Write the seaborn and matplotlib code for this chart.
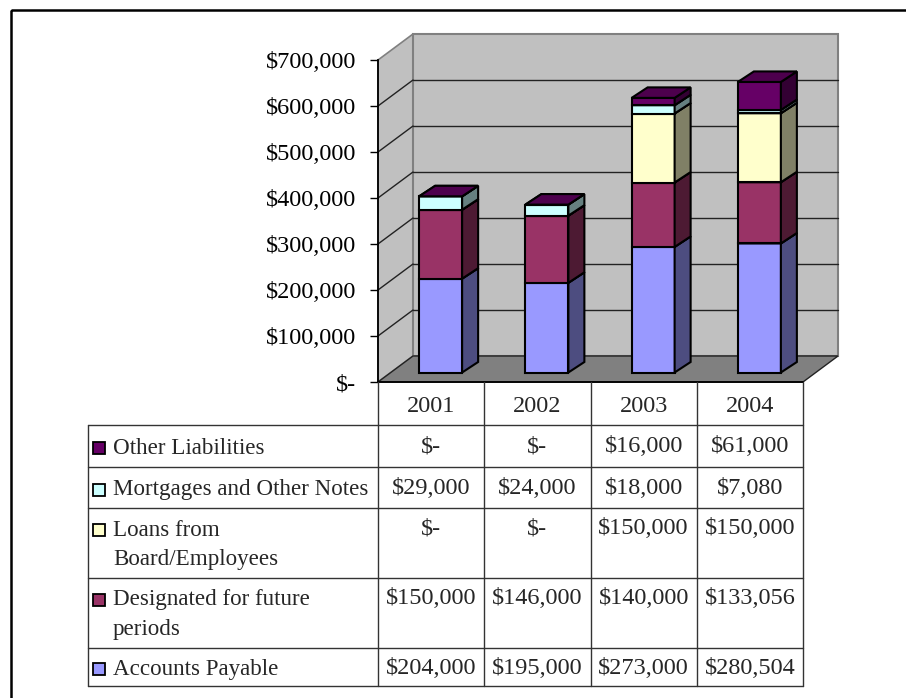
import matplotlib
matplotlib.use("Agg")
import matplotlib.pyplot as plt
import matplotlib.transforms as mtransforms
from matplotlib.patches import Polygon, Rectangle
from matplotlib.lines import Line2D
import matplotlib.colors as mcolors
import seaborn as sns
import numpy as np

# ---------------- data ----------------
years = ["2001", "2002", "2003", "2004"]
accounts_payable = [204000, 195000, 273000, 280504]
designated = [150000, 146000, 140000, 133056]
loans = [0, 0, 150000, 150000]
mortgages = [29000, 24000, 18000, 7080]
other_liabilities = [0, 0, 16000, 61000]

series_names = ["Accounts Payable", "Designated for future periods",
                "Loans from Board/Employees", "Mortgages and Other Notes",
                "Other Liabilities"]
series_values = [accounts_payable, designated, loans, mortgages, other_liabilities]
series_colors = ["#9999FF", "#993366", "#FFFFCC", "#CCFFFF", "#660066"]
# table row labels (top to bottom), with line breaks as in the chart
table_label_lines = {
    "Other Liabilities": ["Other Liabilities"],
    "Mortgages and Other Notes": ["Mortgages and Other Notes"],
    "Loans from Board/Employees": ["Loans from", "Board/Employees"],
    "Designated for future periods": ["Designated for future", "periods"],
    "Accounts Payable": ["Accounts Payable"],
}
yticks = [0, 100000, 200000, 300000, 400000, 500000, 600000, 700000]


def money(v):
    return "$-" if v == 0 else "${:,.0f}".format(v)


# ---------------- style ----------------
sns.set_theme(style="white")
plt.rcParams["font.family"] = ["Liberation Serif", "DejaVu Serif"]
FS = 17.5       # numbers
FS_LBL = 16.6   # row labels

W, H = 906, 698
fig = plt.figure(figsize=(W / 100, H / 100), dpi=100)
fig.patch.set_facecolor("white")
pix = mtransforms.Affine2D().scale(1, -1).translate(0, H)  # (x px, y px from top)


def fx(px):
    return px / W


def fy(py):
    return 1 - py / H


AX_L, AX_R, AX_T, AX_B = 378, 803, 60, 382
ax = fig.add_axes([fx(AX_L), fy(AX_B), fx(AX_R) - fx(AX_L), fy(AX_T) - fy(AX_B)])
ax.set_facecolor("none")
YMAX = 700000
ux = 4.0 / (AX_R - AX_L)          # data units per px (x)
uy = YMAX / (AX_B - AX_T)          # data units per px (y)

# depth of the 3D box and bars (px)
dxw, dyw = 35 * ux, 26 * uy
dxf, dyf = 9.5 * ux, 9.5 * uy      # bar front offset
ddx, ddy = 16 * ux, 10.5 * uy      # bar depth
bar_w = 43 * ux

# ---------------- walls ----------------
x0, x1 = -0.5, 3.5
side = Polygon([(x0, 0), (x0, YMAX), (x0 + dxw, YMAX + dyw), (x0 + dxw, dyw)],
               closed=True, facecolor="#C0C0C0", edgecolor="#808080", lw=1.2,
               zorder=0, clip_on=False)
back = Polygon([(x0 + dxw, dyw), (x1 + dxw, dyw), (x1 + dxw, YMAX + dyw), (x0 + dxw, YMAX + dyw)],
               closed=True, facecolor="#C0C0C0", edgecolor="#808080", lw=1.5,
               zorder=0, clip_on=False)
floor = Polygon([(x0, 0), (x1, 0), (x1 + dxw, dyw), (x0 + dxw, dyw)],
                closed=True, facecolor="#808080", edgecolor="#222222", lw=1.0,
                zorder=0.2, clip_on=False)
for p in (side, back, floor):
    ax.add_patch(p)
for v in yticks[1:-1]:
    ax.add_line(Line2D([x0 + dxw, x1 + dxw], [v + dyw, v + dyw], color="#222222",
                       lw=1.0, zorder=0.3, clip_on=False))
    ax.add_line(Line2D([x0, x0 + dxw], [v, v + dyw], color="#222222",
                       lw=1.0, zorder=0.3, clip_on=False))
ax.add_line(Line2D([x0, x1], [0, 0], color="black", lw=1.3, zorder=0.4, clip_on=False))

# ---------------- stacked 3D bars ----------------
xpos = np.arange(len(years)) + dxf
bottoms = np.zeros(len(years))
for name, vals, col in zip(series_names, series_values, series_colors):
    vals = np.asarray(vals, dtype=float)
    sns.barplot(x=xpos, y=vals, bottom=bottoms + dyf, native_scale=True,
                width=bar_w, color=col, saturation=1, edgecolor="black",
                linewidth=1.5, errorbar=None, ax=ax, zorder=1, clip_on=False)
    rgb = np.array(mcolors.to_rgb(col))
    side_c = rgb * 0.5
    top_c = rgb * 0.75
    for i in range(len(years)):
        xl = xpos[i] - bar_w / 2
        xr = xpos[i] + bar_w / 2
        b = bottoms[i] + dyf
        t = b + vals[i]
        ax.add_patch(Polygon([(xr, b), (xr + ddx, b + ddy), (xr + ddx, t + ddy), (xr, t)],
                             closed=True, facecolor=side_c, edgecolor="black", lw=1.5,
                             zorder=1, clip_on=False))
        ax.add_patch(Polygon([(xl, t), (xr, t), (xr + ddx, t + ddy), (xl + ddx, t + ddy)],
                             closed=True, facecolor=top_c, edgecolor="black", lw=1.5,
                             zorder=1, clip_on=False))
    bottoms = bottoms + vals

ax.set_xlim(x0, x1)
ax.set_ylim(0, YMAX)
ax.set_xlabel("")
ax.set_ylabel("")
ax.set_xticks([])
ax.set_yticks(yticks)
ax.set_yticklabels([money(v) for v in yticks], fontsize=FS, color="black")
ax.tick_params(axis="y", direction="out", length=5.8, width=1.0, color="black",
               pad=10, left=True)
for s in ("top", "right", "bottom"):
    ax.spines[s].set_visible(False)
ax.spines["left"].set_color("black")
ax.spines["left"].set_linewidth(1.3)
ax.spines["left"].set_zorder(0.5)
ax.grid(False)

# ---------------- data table ----------------
col_edges = [AX_L + i * (AX_R - AX_L) / len(years) for i in range(len(years) + 1)]
col_centers = [(col_edges[i] + col_edges[i + 1]) / 2 for i in range(len(years))]
TBL_L = 88
row_edges = [425, 467, 508, 578, 648, 686]
line_col = "#333333"

for xe in col_edges:
    fig.add_artist(Line2D([xe, xe], [382, row_edges[-1]], transform=pix,
                          color=line_col, lw=1.0))
fig.add_artist(Line2D([TBL_L, TBL_L], [row_edges[0], row_edges[-1]], transform=pix,
                      color=line_col, lw=1.0))
for ye in row_edges:
    fig.add_artist(Line2D([TBL_L, AX_R], [ye, ye], transform=pix, color=line_col, lw=1.0))

for cx, yr in zip(col_centers, years):
    fig.text(cx, 406, yr, transform=pix, ha="center", va="center", fontsize=FS)

order = list(range(len(series_names)))[::-1]   # top to bottom in table
for r, si in enumerate(order):
    rt, rb = row_edges[r], row_edges[r + 1]
    lines = table_label_lines[series_names[si]]
    if len(lines) == 1:
        ys = [(rt + rb) / 2 + 2]
    else:
        ys = [rt + 22, rt + 52]
    for ln, yy in zip(lines, ys):
        fig.text(113, yy, ln, transform=pix, ha="left", va="center", fontsize=FS_LBL)
    fig.add_artist(Rectangle((93, ys[0] - 6), 12, 12, transform=pix,
                             facecolor=series_colors[si], edgecolor="black", lw=1.3))
    for cx, v in zip(col_centers, series_values[si]):
        fig.text(cx, ys[0] - 1, money(v), transform=pix, ha="center", va="center", fontsize=FS)

# outer chart border
fig.add_artist(Rectangle((11, 10), 1200, 1200, transform=pix, facecolor="none",
                         edgecolor="black", lw=1.8))

fig.savefig("out.png", dpi=100)
